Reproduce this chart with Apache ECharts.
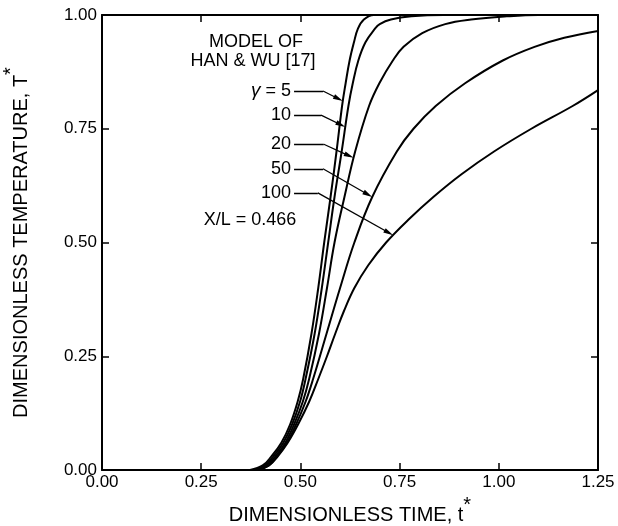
<!DOCTYPE html>
<html>
<head>
<meta charset="utf-8">
<script src="https://cdn.jsdelivr.net/npm/echarts@6/dist/echarts.min.js"></script>
<style>
  html, body { margin: 0; padding: 0; background: #fff; }
  #chart { width: 618px; height: 526px; }
</style>
</head>
<body>
<div id="chart"></div>
<script>
// Axis ticks
const xTicks = [0, 0.25, 0.5, 0.75, 1.0, 1.25];
const yTicks = [0, 0.25, 0.5, 0.75, 1.0];

// Temperature histories [t*, T*] at X/L = 0.466 for each gamma
const curveGamma5 = [
  [0.373, 0], [0.405, 0.01], [0.427, 0.03], [0.452, 0.06], [0.474, 0.10],
  [0.493, 0.15], [0.507, 0.20], [0.528, 0.30], [0.545, 0.40], [0.560, 0.50],
  [0.576, 0.60], [0.591, 0.70], [0.605, 0.80], [0.614, 0.85], [0.624, 0.90],
  [0.635, 0.94], [0.645, 0.97], [0.660, 0.99], [0.685, 1.0], [1.25, 1.0]
];
const curveGamma10 = [
  [0.381, 0], [0.410, 0.01], [0.432, 0.03], [0.457, 0.06], [0.479, 0.10],
  [0.499, 0.15], [0.513, 0.20], [0.536, 0.30], [0.554, 0.40], [0.570, 0.50],
  [0.586, 0.60], [0.604, 0.70], [0.621, 0.80], [0.632, 0.85], [0.646, 0.90],
  [0.664, 0.94], [0.688, 0.97], [0.700, 0.98], [0.728, 0.99], [0.780, 0.997],
  [0.860, 1.0], [1.25, 1.0]
];
const curveGamma20 = [
  [0.388, 0], [0.415, 0.01], [0.437, 0.03], [0.462, 0.06], [0.484, 0.10],
  [0.506, 0.15], [0.522, 0.20], [0.547, 0.30], [0.567, 0.40], [0.586, 0.50],
  [0.611, 0.60], [0.638, 0.70], [0.673, 0.80], [0.699, 0.85], [0.733, 0.90],
  [0.760, 0.93], [0.807, 0.96], [0.865, 0.98], [0.930, 0.99], [1.020, 0.997],
  [1.100, 1.0], [1.25, 1.0]
];
const curveGamma50 = [
  [0.393, 0], [0.420, 0.01], [0.441, 0.03], [0.466, 0.06], [0.489, 0.10],
  [0.513, 0.15], [0.532, 0.20], [0.566, 0.30], [0.600, 0.40], [0.636, 0.50],
  [0.681, 0.60], [0.743, 0.70], [0.785, 0.75], [0.841, 0.80], [0.915, 0.85],
  [1.010, 0.90], [1.090, 0.93], [1.165, 0.95], [1.25, 0.965]
];
const curveGamma100 = [
  [0.393, 0], [0.421, 0.01], [0.443, 0.03], [0.468, 0.06], [0.494, 0.10],
  [0.522, 0.15], [0.545, 0.20], [0.567, 0.25], [0.588, 0.30], [0.610, 0.35],
  [0.636, 0.40], [0.671, 0.45], [0.716, 0.50], [0.772, 0.55], [0.835, 0.60],
  [0.906, 0.65], [0.988, 0.70], [1.082, 0.75], [1.186, 0.80], [1.25, 0.835]
];

// Leader annotations: label, line level (T*), horizontal run (t*), arrow tip level on its curve
const leaderLabels = ['{g|γ} = 5', '10', '20', '50', '100'];
const leaderLevels = [0.833, 0.780, 0.716, 0.662, 0.609];
const leaderStart = [0.484, 0.484, 0.484, 0.484, 0.484];
const leaderElbow = [0.557, 0.552, 0.559, 0.557, 0.544];
const arrowTipLevels = [0.811, 0.754, 0.686, 0.600, 0.516];

const curves = [curveGamma5, curveGamma10, curveGamma20, curveGamma50, curveGamma100];

const FONT = '"Liberation Sans", Arial, Helvetica, sans-serif';
const INK = '#000';

// time on a curve where it reaches temperature level T (linear between samples)
function timeAtLevel(curve, T) {
  for (let i = 0; i < curve.length - 1; i++) {
    const a = curve[i], b = curve[i + 1];
    if (T >= a[1] && T <= b[1] && b[1] > a[1]) {
      return a[0] + (T - a[1]) / (b[1] - a[1]) * (b[0] - a[0]);
    }
  }
  return curve[curve.length - 1][0];
}

const chart = echarts.init(document.getElementById('chart'), null, { renderer: 'canvas' });

function axisBase(ticks) {
  return {
    type: 'value',
    min: ticks[0],
    max: ticks[ticks.length - 1],
    interval: ticks[1] - ticks[0],
    axisLine: { show: true, onZero: false, lineStyle: { color: INK, width: 2 } },
    axisTick: { show: true, inside: true, length: 7, lineStyle: { color: INK, width: 1.5 } },
    splitLine: { show: false },
    minorTick: { show: false }
  };
}

const nameRich = {
  a: { fontSize: 20, fontFamily: FONT, color: INK, lineHeight: 30, verticalAlign: 'bottom' },
  s: { fontSize: 20, fontFamily: FONT, color: INK, lineHeight: 20, verticalAlign: 'top' }
};

const option = {
  animation: false,
  backgroundColor: '#fff',
  grid: { left: 102, right: 20, top: 15, bottom: 56, containLabel: false, outerBoundsMode: 'none' },
  xAxis: [
    Object.assign(axisBase(xTicks), {
      position: 'bottom',
      axisLabel: { show: true, color: INK, fontSize: 17, fontFamily: FONT, margin: 4,
        showMinLabel: true, showMaxLabel: true, formatter: v => v.toFixed(2) },
      name: '{a|DIMENSIONLESS TIME, t}{s|*}',
      nameLocation: 'middle',
      nameGap: 25,
      nameTextStyle: { rich: nameRich }
    }),
    Object.assign(axisBase(xTicks), { position: 'top', axisLabel: { show: false } })
  ],
  yAxis: [
    Object.assign(axisBase(yTicks), {
      position: 'left',
      axisLabel: { show: true, color: INK, fontSize: 17, fontFamily: FONT, margin: 5,
        showMinLabel: true, showMaxLabel: true, formatter: v => v.toFixed(2) },
      name: '{a|DIMENSIONLESS TEMPERATURE, T}{s|*}',
      nameLocation: 'middle',
      nameGap: 71,
      nameTextStyle: { rich: nameRich }
    }),
    Object.assign(axisBase(yTicks), { position: 'right', axisLabel: { show: false } })
  ],
  series: curves.map(c => ({
    type: 'line',
    xAxisIndex: 0,
    yAxisIndex: 0,
    data: c,
    showSymbol: false,
    smooth: 0.4,
    silent: true,
    lineStyle: { color: INK, width: 2 }
  })),
  graphic: [
    { type: 'text', x: 256, y: 42, style: { text: 'MODEL OF', font: '18px ' + FONT, fill: INK, align: 'center', verticalAlign: 'middle' } },
    { type: 'text', x: 253, y: 61, style: { text: 'HAN & WU [17]', font: '18px ' + FONT, fill: INK, align: 'center', verticalAlign: 'middle' } },
    { type: 'text', x: 250, y: 220, style: { text: 'X/L = 0.466', font: '18px ' + FONT, fill: INK, align: 'center', verticalAlign: 'middle' } }
  ]
};
chart.setOption(option);

// Leader lines: horizontal run from the label, then a diagonal ending in an arrowhead on the curve
const horizontal = [];
const diagonal = [];
const HEAD = 10;
leaderLabels.forEach((label, i) => {
  const level = leaderLevels[i];
  const elbow = [leaderElbow[i], level];
  const tipT = arrowTipLevels[i];
  const tip = [timeAtLevel(curves[i], tipT), tipT];
  horizontal.push({ name: label, coords: [[leaderStart[i], level], elbow] });
  // pull the end back half an arrowhead so the point of the head touches the curve
  const pe = chart.convertToPixel({ gridIndex: 0 }, elbow);
  const pt = chart.convertToPixel({ gridIndex: 0 }, tip);
  const dx = pt[0] - pe[0], dy = pt[1] - pe[1];
  const len = Math.hypot(dx, dy);
  const endPx = [pt[0] - dx / len * HEAD / 2, pt[1] - dy / len * HEAD / 2];
  const end = chart.convertFromPixel({ gridIndex: 0 }, endPx);
  diagonal.push({ coords: [elbow, end] });
});

chart.setOption({
  series: option.series.concat([
    {
      type: 'lines', coordinateSystem: 'cartesian2d', xAxisIndex: 0, yAxisIndex: 0,
      silent: true, data: horizontal,
      symbol: ['none', 'none'],
      lineStyle: { color: INK, width: 1.3, opacity: 1, curveness: 0 },
      label: { show: true, position: 'start', distance: 3, formatter: '{b}',
        color: INK, fontSize: 18, fontFamily: FONT,
        rich: { g: { fontSize: 19, fontStyle: 'italic', fontFamily: FONT, color: INK } } }
    },
    {
      type: 'lines', coordinateSystem: 'cartesian2d', xAxisIndex: 0, yAxisIndex: 0,
      silent: true, data: diagonal,
      symbol: ['none', 'triangle'],
      symbolSize: [0, [5, HEAD]],
      lineStyle: { color: INK, width: 1.3, opacity: 1, curveness: 0 },
      itemStyle: { color: INK }
    }
  ])
});
</script>
</body>
</html>
